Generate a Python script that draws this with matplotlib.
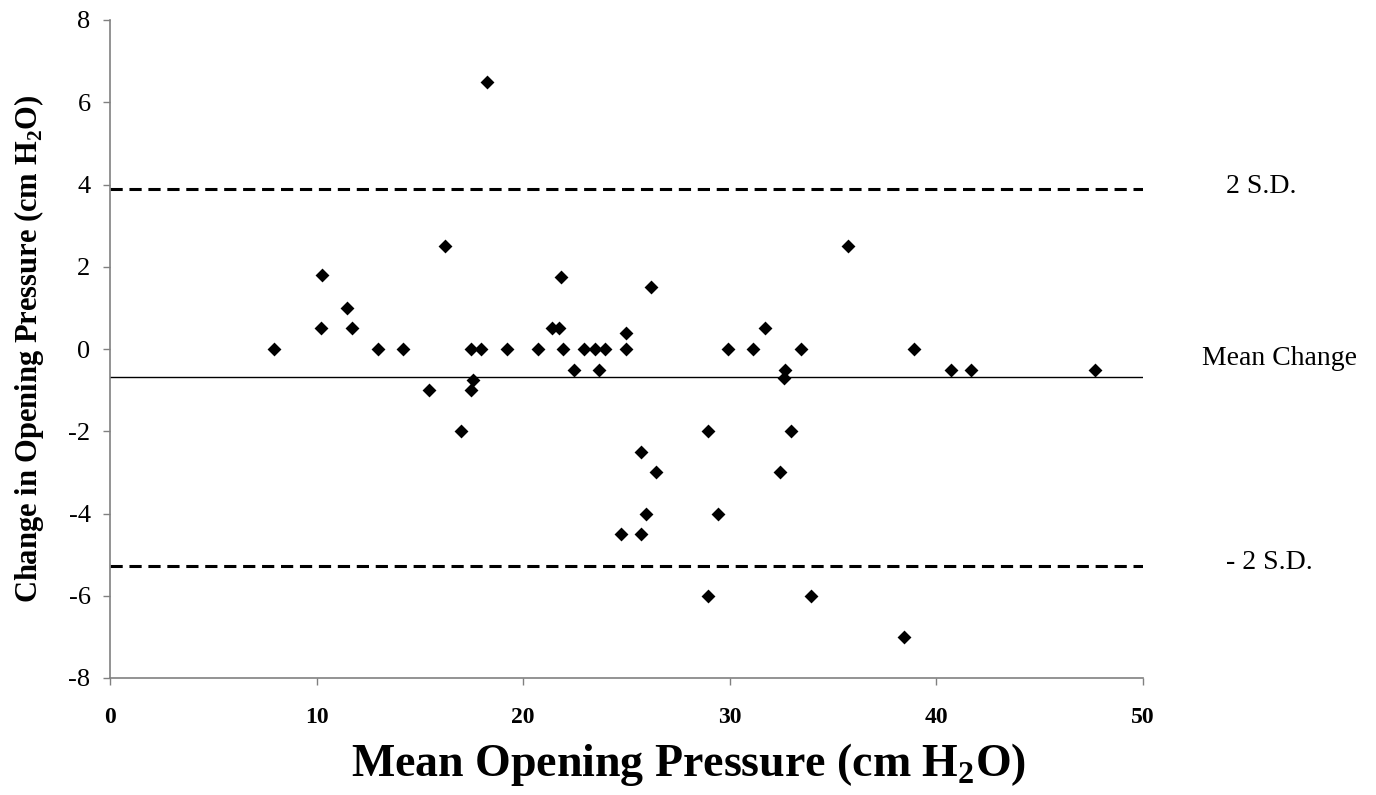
import matplotlib
matplotlib.use("Agg")
import matplotlib.pyplot as plt

plt.rcParams['font.family'] = ['Liberation Serif', 'DejaVu Serif']
plt.rcParams['mathtext.fontset'] = 'custom'
plt.rcParams['mathtext.rm'] = 'Liberation Serif'
plt.rcParams['mathtext.bf'] = 'Liberation Serif:bold'

mean_pressure = [7.96, 10.28, 10.21, 11.46, 11.73, 12.97, 14.2, 15.46, 16.21, 16.97,
                 17.45, 17.45, 17.59, 17.97, 18.23, 19.2, 20.72, 21.41, 21.73, 21.81,
                 21.95, 22.44, 22.96, 23.47, 23.68, 23.97, 24.96, 24.96, 26.21, 25.68,
                 26.45, 25.96, 24.71, 25.68, 28.93, 29.44, 28.93, 29.93, 31.14, 31.7,
                 32.45, 32.6, 32.69, 32.94, 33.44, 33.93, 35.7, 38.43, 38.93, 40.7,
                 41.69, 47.7]
change = [0, 1.8, 0.5, 1.0, 0.5, 0, 0, -1.0, 2.5, -2.0,
          0, -1.0, -0.75, 0, 6.5, 0, 0, 0.5, 0.5, 1.75,
          0, -0.5, 0, 0, -0.5, 0, 0.4, 0, 1.5, -2.5,
          -3.0, -4.0, -4.5, -4.5, -2.0, -4.0, -6.0, 0, 0, 0.5,
          -3.0, -0.7, -0.5, -2.0, 0, -6.0, 2.5, -7.0, 0, -0.5,
          -0.5, -0.5]

mean_change = -0.69
upper_sd = 3.9
lower_sd = -5.28

x_ticks = [0, 10, 20, 30, 40, 50]
y_ticks = [-8, -6, -4, -2, 0, 2, 4, 6, 8]

fig = plt.figure(figsize=(13.76, 7.95), dpi=100)
ax = fig.add_axes([110/1376, 1 - 678/795, (1143-110)/1376, (678-20)/795])

ax.plot([0, 50], [upper_sd, upper_sd], color='black', lw=2.2, ls=(0, (4, 2.2)))
ax.plot([0, 50], [lower_sd, lower_sd], color='black', lw=2.2, ls=(0, (4, 2.2)))
ax.plot([0, 50], [mean_change, mean_change], color='black', lw=1.0)

ax.scatter(mean_pressure, change, marker='D', s=50, color='black', zorder=5, linewidths=0)

ax.set_xlim(0, 50)
ax.set_ylim(-8, 8)
ax.set_xticks(x_ticks)
ax.set_yticks(y_ticks)
ax.set_xticklabels([str(t) for t in x_ticks], fontsize=17, fontweight='bold')
ax.set_yticklabels([str(t) for t in y_ticks], fontsize=19)

for s in ['top', 'right']:
    ax.spines[s].set_visible(False)
for s in ['left', 'bottom']:
    ax.spines[s].set_color('#808080')
    ax.spines[s].set_linewidth(1.2)
ax.tick_params(axis='both', direction='out', length=5, color='#808080', width=1)
ax.tick_params(axis='x', pad=16)
ax.tick_params(axis='y', pad=9)

ax.set_xlabel(r'Mean Opening Pressure (cm H$_\mathbf{2}$O)', fontsize=33, fontweight='bold')
ax.xaxis.set_label_coords(0.56, -0.096)
ax.set_ylabel(r'Change in Opening Pressure (cm H$_\mathbf{2}$O)', fontsize=22, fontweight='bold', labelpad=16)

ax.text(55.7, 3.95, '2 S.D.', fontsize=20, ha='center', va='center', clip_on=False)
ax.text(56.6, -0.22, 'Mean Change', fontsize=20, ha='center', va='center', clip_on=False)
ax.text(56.1, -5.2, '- 2 S.D.', fontsize=20, ha='center', va='center', clip_on=False)

fig.savefig('out.png', dpi=100)
